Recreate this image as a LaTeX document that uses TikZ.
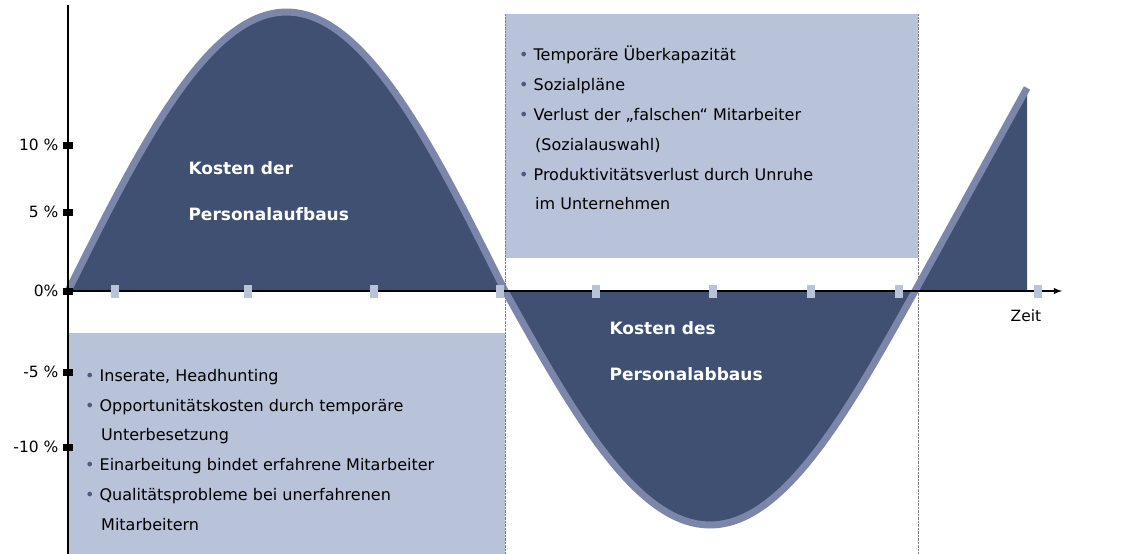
\documentclass[tikz,border=0pt]{standalone}
\usepackage{fontspec}
\setmainfont{DejaVu Sans}
\usetikzlibrary{positioning}
\definecolor{hump}{HTML}{3F5073}
\definecolor{rim}{HTML}{7B86AA}
\definecolor{panel}{HTML}{B8C2D8}
\definecolor{bul}{HTML}{4A5A80}
\tikzset{
  ytick/.style={fill=black,minimum width=10pt,minimum height=7pt,inner sep=0pt},
  xtick/.style={fill=panel,minimum width=8pt,minimum height=13pt,inner sep=0pt},
  ylab/.style={anchor=east,font=\fontsize{15.5}{18}\selectfont},
  hlab/.style={text=white,font=\bfseries\fontsize{17}{46}\selectfont,align=left,anchor=north west},
  list/.style={font=\fontsize{16}{29.8}\selectfont,align=left,anchor=north west,inner sep=0pt},
}
\newcommand{\bl}{{\color{bul}\textbullet}\hspace{5pt}}
\begin{document}
\begin{tikzpicture}[x=1pt,y=-1pt,>=latex]
\useasboundingbox (0,0) rectangle (1130,554);
% panels
\fill[panel] (68,333) rectangle (505,554);
\fill[panel] (505,14) rectangle (918,258);
\draw[densely dotted,gray] (505,14) -- (505,554);
\draw[densely dotted,gray] (918,14) -- (918,554);
% curve
\fill[hump] plot[domain=68:505,samples=80] (\x,{291-279*sin((\x-68)/437*180)}) -- cycle;
\fill[hump] plot[domain=505:915,samples=80] (\x,{291+234*sin((\x-505)/410*180)}) -- cycle;
\fill[hump] (915,291) -- (1027,88) -- (1027,291) -- cycle;
\draw[rim,line width=7pt,line join=round]
  plot[domain=68:505,samples=80] (\x,{291-279*sin((\x-68)/437*180)})
  -- plot[domain=505:915,samples=80] (\x,{291+234*sin((\x-505)/410*180)})
  -- (1027,88);
% axes
\coordinate (o) at (68,291);
\coordinate (xend) at (1062,291);
\draw[line width=2.5pt] (68,5) -- (68,554);
\draw[line width=1.8pt,->] (o) -- (xend);
\node[anchor=north] (zeit) at (1026,306) {\fontsize{15.5}{18}\selectfont Zeit};
\foreach \y/\t in {145/10 \%,212/5 \%,291/0\%,372/-5 \%,447/-10 \%}
  {\node[ytick] (yt\y) at (68,\y) {};
   \node[ylab] at (62,\y) {\t};}
\foreach \x in {115,248,374,500,596,713,811,899,1038}
  \node[xtick] (xt\x) at (\x,291) {};
% labels
\node[hlab] (aufbau) at (185,158) {Kosten der\\Personalaufbaus};
\node[hlab] (abbau) at (606,318) {Kosten des\\Personalabbaus};
\node[list] (links) at (85,369) {\bl Inserate, Headhunting\\
\bl Opportunitätskosten durch temporäre\\
\hspace{16pt}Unterbesetzung\\
\bl Einarbeitung bindet erfahrene Mitarbeiter\\
\bl Qualitätsprobleme bei unerfahrenen\\
\hspace{16pt}Mitarbeitern};
\node[list] (rechts) at (519,46) {\bl Temporäre Überkapazität\\
\bl Sozialpläne\\
\bl Verlust der „falschen“ Mitarbeiter\\
\hspace{16pt}(Sozialauswahl)\\
\bl Produktivitätsverlust durch Unruhe\\
\hspace{16pt}im Unternehmen};
\end{tikzpicture}
\end{document}
